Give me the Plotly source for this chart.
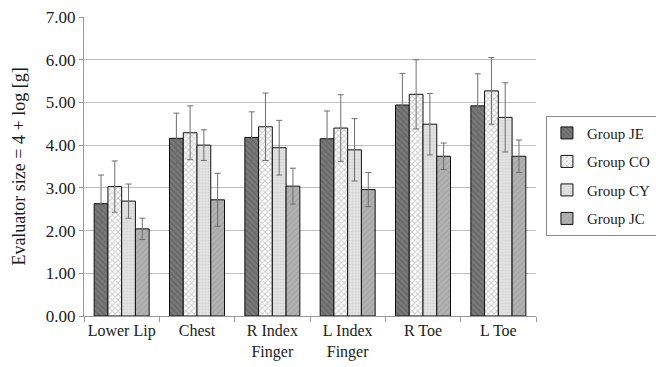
import plotly.graph_objects as go

categories = ["Lower Lip", "Chest", "R Index<br>Finger", "L Index<br>Finger", "R Toe", "L Toe"]
groups = ["Group JE", "Group CO", "Group CY", "Group JC"]

je = [2.63, 4.16, 4.18, 4.15, 4.94, 4.92]
co = [3.03, 4.29, 4.43, 4.40, 5.19, 5.27]
cy = [2.69, 4.00, 3.94, 3.89, 4.49, 4.65]
jc = [2.04, 2.72, 3.04, 2.96, 3.74, 3.74]

je_err = [0.67, 0.59, 0.60, 0.65, 0.74, 0.75]
co_err = [0.60, 0.63, 0.79, 0.78, 0.81, 0.78]
cy_err = [0.40, 0.36, 0.64, 0.73, 0.72, 0.81]
jc_err = [0.25, 0.62, 0.42, 0.40, 0.31, 0.38]

values = [je, co, cy, jc]
errors = [je_err, co_err, cy_err, jc_err]

styles = [
    dict(bg="#7a7a7a", fg="#4a4a4a", shape="\\", size=4, sol=0.35),
    dict(bg="#ffffff", fg="#9a9a9a", shape="x", size=4, sol=0.45),
    dict(bg="#e4e4e4", fg="#c4c4c4", shape=".", size=3, sol=0.4),
    dict(bg="#b2b2b2", fg="#959595", shape="/", size=4, sol=0.35),
]

fig = go.Figure()
for name, vals, errs, st in zip(groups, values, errors, styles):
    fig.add_trace(go.Bar(
        name=name, x=categories, y=vals, legendgroup=name,
        marker=dict(
            color=st["bg"],
            line=dict(color="#111111", width=1),
            pattern=dict(shape=st["shape"], fgcolor=st["fg"], bgcolor=st["bg"],
                         size=st["size"], solidity=st["sol"], fillmode="overlay"),
        ),
        error_y=dict(type="data", array=errs, visible=True, color="#6e6e6e",
                     thickness=1, width=3),
    ))

font_family = "Liberation Serif, Times New Roman, serif"
fig.update_layout(
    width=656, height=367,
    margin=dict(l=84, r=120, t=17, b=51, autoexpand=False),
    barmode="group", bargap=0.27, bargroupgap=0,
    plot_bgcolor="white", paper_bgcolor="white",
    font=dict(family=font_family, size=17, color="#1a1a1a"),
    legend=dict(x=1.022, y=0.67, xanchor="left", yanchor="top",
                bordercolor="#8a8a8a", borderwidth=1,
                font=dict(family=font_family, size=15),
                itemwidth=30, tracegroupgap=6),
    showlegend=True,
)
fig.update_yaxes(range=[0, 7], dtick=1, tickformat=".2f",
                 showgrid=True, gridcolor="#bdbdbd", gridwidth=1,
                 showline=True, linecolor="#999999", linewidth=1,
                 ticks="outside", ticklen=4, tickcolor="#999999",
                 zeroline=False, tickfont=dict(family=font_family, size=17),
                 title=dict(text="Evaluator size = 4 + log [g]",
                            font=dict(family=font_family, size=18), standoff=15))
fig.update_xaxes(showline=True, linecolor="#999999", linewidth=1,
                 ticks="outside", ticklen=5, tickcolor="#999999",
                 tickson="boundaries", showgrid=False, tickangle=0,
                 tickfont=dict(family=font_family, size=16))

fig.write_html("out.html")
